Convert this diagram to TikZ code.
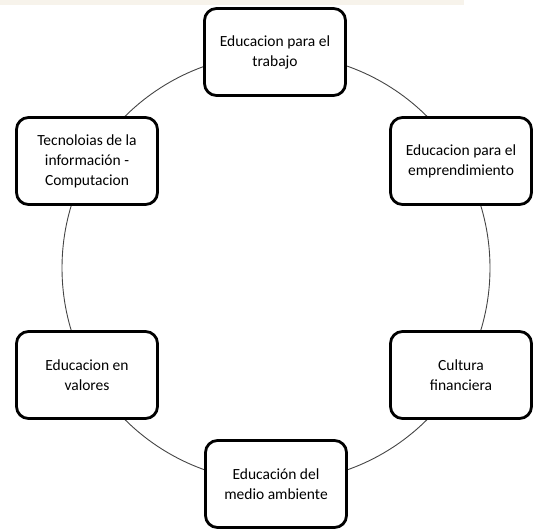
\documentclass[tikz,border=0pt]{standalone}
\usepackage{fontspec}
\setmainfont{Carlito}
\usepackage{xcolor}
\usetikzlibrary{positioning}
\definecolor{franja}{HTML}{F7F3EB}
\definecolor{aro}{HTML}{444444}

\begin{document}
\begin{tikzpicture}[x=1pt,y=-1pt,
  tema/.style={draw, line width=2.8pt, rounded corners=12pt, fill=white,
    minimum width=141pt, minimum height=87pt, align=center, inner sep=2pt,
    font=\fontsize{15.5}{20}\selectfont}]
\useasboundingbox (0,0) rectangle (535,531);
% Top strip
\fill[franja] (0,0) rectangle (464,4.5);

% Ring
\coordinate (centro) at (276,268);
\draw[aro, line width=0.9pt] (centro) circle (214pt);

% Topics
\node[tema] (trabajo) at (275,52) {Educacion para el\\trabajo};
\node[tema] (emprende) at (461,161) {Educacion para el\\emprendimiento};
\node[tema] (finanzas) at (461,375) {Cultura\\financiera};
\node[tema] (ambiente) at (276,484) {Educación del\\medio ambiente};
\node[tema] (valores) at (87,375) {Educacion en\\valores};
\node[tema] (tecno) at (87,161) {Tecnoloias de la\\información -\\Computacion};

\end{tikzpicture}
\end{document}
